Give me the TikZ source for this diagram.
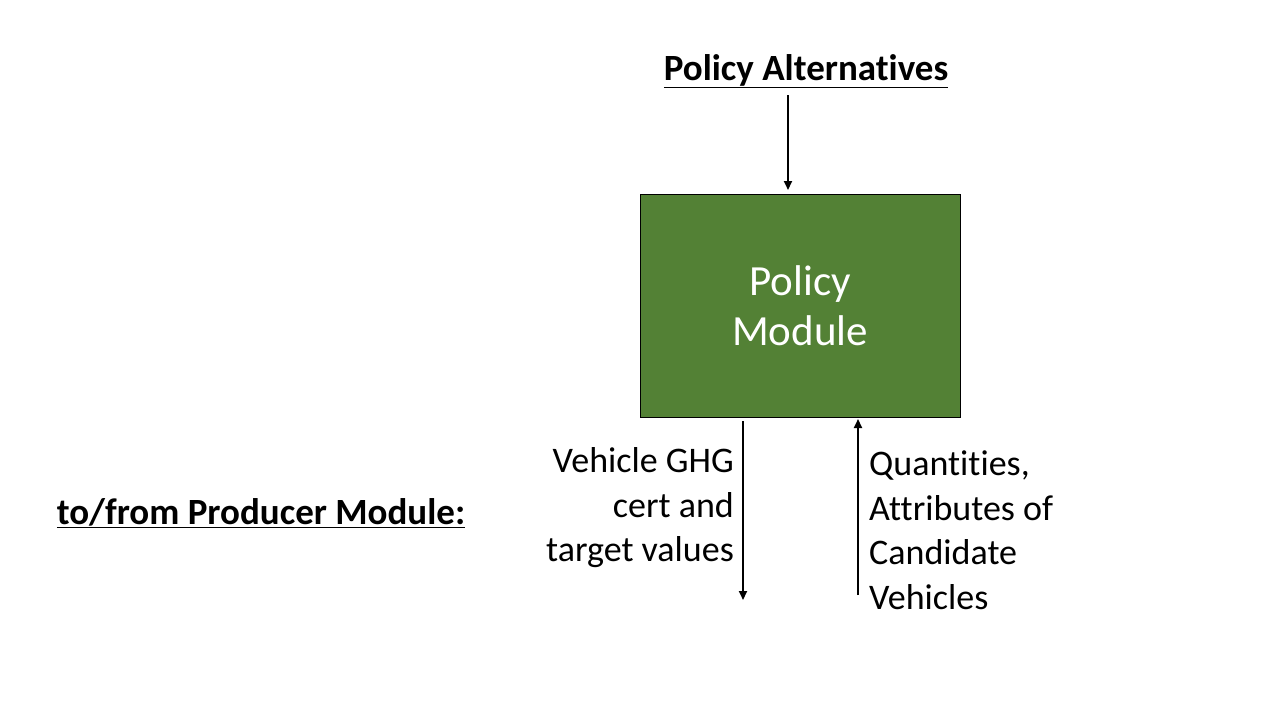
\documentclass[tikz,border=0pt]{standalone}
\usepackage{fontspec}
\setmainfont[Ligatures={NoCommon}]{Carlito}
\usetikzlibrary{arrows.meta}
\definecolor{boxgreen}{HTML}{538135}
\begin{document}
\begin{tikzpicture}[x=1pt,y=-1pt,
  conn/.style={line width=2pt,-{Triangle[width=8pt,length=9pt]}},
  lbl/.style={inner sep=0pt,font=\fontsize{36}{44.5}\selectfont},
  head/.style={inner sep=0pt,font=\fontsize{37}{42}\selectfont\bfseries}]
\useasboundingbox (0,0) rectangle (1280,720);
\fill[white] (0,0) rectangle (1280,720);
\node[draw=black,line width=1pt,fill=boxgreen,minimum width=320pt,minimum height=223pt,inner sep=0pt,
  text=white,align=center,font=\fontsize{43}{50.5}\selectfont] (pm) at (800,305.5) {Policy\\Module};
\node[head] (pa) at (806,71) {\underline{Policy Alternatives}};
\node[head] (pr) at (261,513) {\underline{to/from Producer Module:}};
\coordinate (tA) at (788,95);
\coordinate (tB) at (788,190);
\draw[conn] (tA) -- (tB);
\coordinate (dA) at (743,421);
\coordinate (dB) at (743,600);
\draw[conn] (dA) -- (dB);
\coordinate (uA) at (858,595);
\coordinate (uB) at (858,419);
\draw[conn] (uA) -- (uB);
\node[lbl,align=right,anchor=east] (vg) at (734,508) {Vehicle GHG\\cert and\\target values};
\node[lbl,align=left,anchor=west] (qa) at (869,530) {Quantities,\\Attributes of\\Candidate\\Vehicles};
\end{tikzpicture}
\end{document}
